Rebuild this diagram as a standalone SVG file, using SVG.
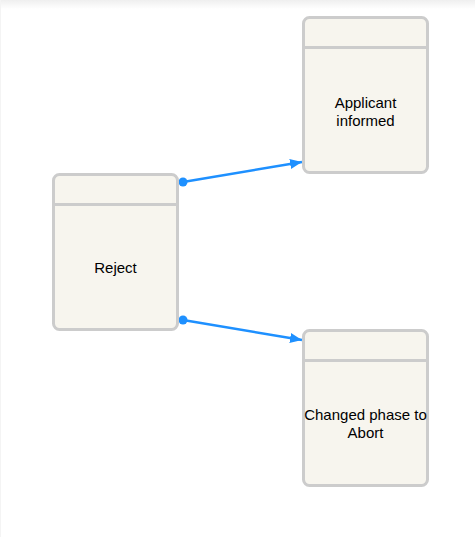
<svg xmlns="http://www.w3.org/2000/svg" width="475" height="537" viewBox="0 0 475 537">
<defs>
<linearGradient id="topShade" x1="0" y1="0" x2="0" y2="1">
<stop offset="0" stop-color="#efefef"/>
<stop offset="1" stop-color="#ffffff"/>
</linearGradient>
<marker id="arrow" viewBox="0 0 12 10" refX="12" refY="5" markerWidth="12" markerHeight="10" markerUnits="userSpaceOnUse" orient="auto">
<path d="M0,0 L12,5 L0,10 Z" fill="#1e90ff"/>
</marker>
<style>
.box{fill:#f7f5ee;stroke:#cccccc;stroke-width:3}
.sep{stroke:#cccccc;stroke-width:3}
.lbl{font-family:"Liberation Sans",Arial,sans-serif;font-size:15px;fill:#000;text-anchor:middle}
.edge{stroke:#1e90ff;stroke-width:2.5;fill:none}
.dot{fill:#1e90ff}
</style>
</defs>
<rect x="0" y="0" width="475" height="537" fill="#ffffff"/>
<rect x="0" y="0" width="475" height="9" fill="url(#topShade)"/>
<line x1="0.5" y1="0" x2="0.5" y2="537" stroke="#f4f4f4" stroke-width="1"/>
<g id="connectors">
<line class="edge" x1="183" y1="182" x2="302" y2="162" marker-end="url(#arrow)"/>
<circle class="dot" cx="183" cy="182" r="4.5"/>
<line class="edge" x1="183" y1="320" x2="302" y2="340" marker-end="url(#arrow)"/>
<circle class="dot" cx="183" cy="320" r="4.5"/>
</g>
<g id="reject">
<rect class="box" x="53.5" y="174.5" width="124" height="155" rx="6"/>
<line class="sep" x1="53.5" y1="204.5" x2="177.5" y2="204.5"/>
<text class="lbl" x="115.5" y="273">Reject</text>
</g>
<g id="applicant-informed">
<rect class="box" x="303.5" y="17.5" width="124" height="155" rx="6"/>
<line class="sep" x1="303.5" y1="47.5" x2="427.5" y2="47.5"/>
<text class="lbl" x="365.5" y="108">Applicant</text>
<text class="lbl" x="365.5" y="126">informed</text>
</g>
<g id="changed-phase">
<rect class="box" x="303.5" y="330.5" width="124" height="155" rx="6"/>
<line class="sep" x1="303.5" y1="360.5" x2="427.5" y2="360.5"/>
<text class="lbl" x="365.5" y="420">Changed phase to</text>
<text class="lbl" x="365.5" y="438">Abort</text>
</g>
</svg>
